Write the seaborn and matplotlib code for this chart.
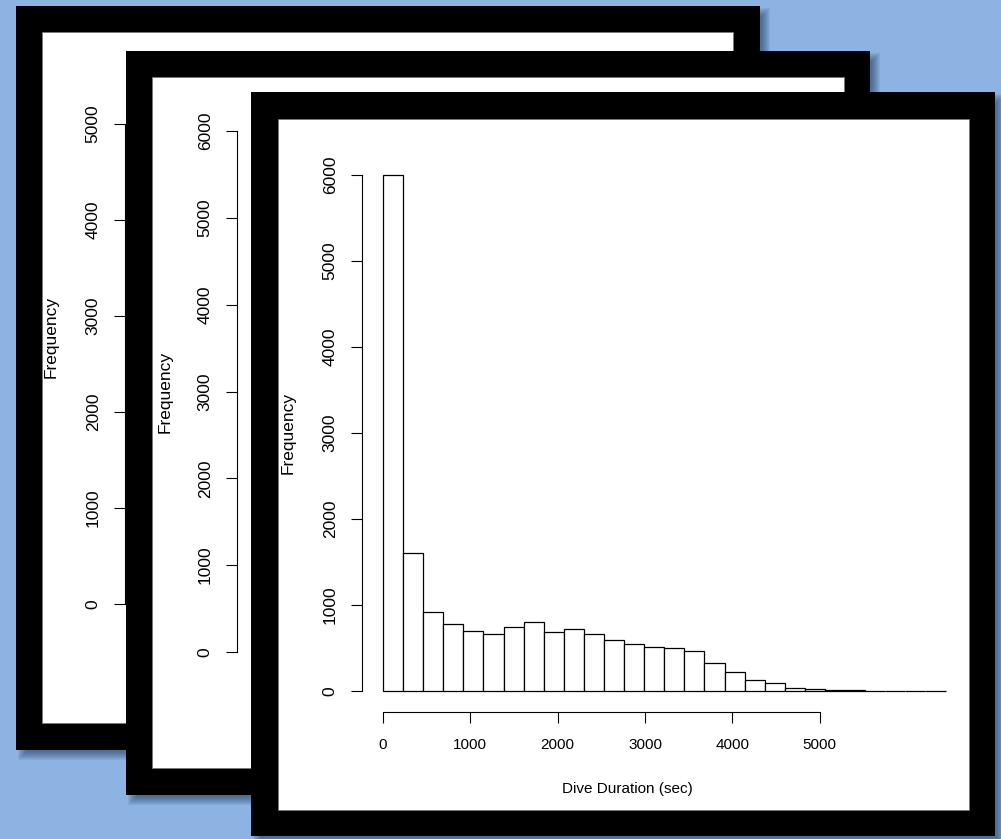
import numpy as np
import matplotlib
matplotlib.use("Agg")
import matplotlib.pyplot as plt
from matplotlib.patches import Rectangle
import seaborn as sns

# ---------------- data ----------------
bin_edges = [0, 230, 460, 690, 920, 1150, 1380, 1610, 1840, 2070, 2300, 2530,
             2760, 2990, 3220, 3450, 3680, 3910, 4140, 4370, 4600, 4830, 5060,
             5290, 5520, 5750, 5980, 6210, 6440]
counts = [6000, 1605, 922, 783, 702, 663, 748, 802, 690, 725, 663, 597, 543,
          516, 504, 469, 330, 225, 128, 89, 39, 18, 14, 10, 0, 0, 0, 0]
x_ticks = [0, 1000, 2000, 3000, 4000, 5000]
x_tick_labels = ["0", "1000", "2000", "3000", "4000", "5000"]
y_ticks_front = [0, 1000, 2000, 3000, 4000, 5000, 6000]
y_tick_labels_front = ["0", "1000", "2000", "3000", "4000", "5000", "6000"]
y_ticks_mid = [0, 1000, 2000, 3000, 4000, 5000, 6000]
y_tick_labels_mid = ["0", "1000", "2000", "3000", "4000", "5000", "6000"]
y_ticks_back = [0, 1000, 2000, 3000, 4000, 5000]
y_tick_labels_back = ["0", "1000", "2000", "3000", "4000", "5000"]
x_label = "Dive Duration (sec)"
y_label = "Frequency"

# ---------------- style ----------------
plt.rcParams["font.family"] = ["Liberation Sans", "DejaVu Sans"]
W, H = 1001, 839
BG = "#8db3e2"
fig = plt.figure(figsize=(W / 100, H / 100), dpi=100, facecolor=BG)


def add_axes_px(left, top, right, bottom, zorder):
    ax = fig.add_axes([left / W, 1 - bottom / H, (right - left) / W, (bottom - top) / H],
                      zorder=zorder)
    ax.set_facecolor("none")
    return ax


def draw_card(zorder, outer, inner):
    ax = fig.add_axes([0, 0, 1, 1], zorder=zorder)
    ax.set_xlim(0, W)
    ax.set_ylim(H, 0)
    ax.axis("off")
    ax.patch.set_alpha(0)
    x0, y0, x1, y1 = outer
    off = 6
    for s in range(-4, 5):
        ax.add_patch(Rectangle((x0 + off + s, y0 + off + s),
                               (x1 - x0) - 2 * s, (y1 - y0) - 2 * s,
                               facecolor="#1d3557", edgecolor="none", alpha=0.08))
    ax.add_patch(Rectangle((x0, y0), x1 - x0, y1 - y0, facecolor="black", edgecolor="none"))
    ix0, iy0, ix1, iy1 = inner
    ax.add_patch(Rectangle((ix0, iy0), ix1 - ix0, iy1 - iy0, facecolor="white",
                           edgecolor="#777777", linewidth=0.6))


def style_y_axis(ax, ticks, labels, bounds):
    for sp in ["top", "right", "bottom"]:
        ax.spines[sp].set_visible(False)
    ax.spines["left"].set_bounds(*bounds)
    ax.spines["left"].set_linewidth(0.8)
    ax.set_yticks(ticks)
    ax.set_yticklabels(labels, rotation=90, va="center", fontsize=12.5)
    ax.tick_params(axis="y", direction="out", length=8, width=0.8, pad=9.5,
                   colors="black")


# ---------------- back card ----------------
draw_card(1, (16, 6, 760, 750), (42, 32, 733, 723))
ax1 = add_axes_px(125, 100, 700, 640, 2)
ax1.set_ylim(-378.5, 5252)
ax1.set_xlim(0, 1)
ax1.set_xticks([])
style_y_axis(ax1, y_ticks_back, y_tick_labels_back, (0, 5000))
ax1.set_ylabel(y_label, fontsize=12.5)
ax1.yaxis.label.set_va("center")
ax1.yaxis.set_label_coords((51 - 125) / 575, (640 - 337) / 540)

# ---------------- middle card ----------------
draw_card(3, (126, 51, 870, 795), (152, 77, 844, 768))
ax2 = add_axes_px(237, 110, 800, 690, 4)
ax2.set_ylim(-437.6, 6242)
ax2.set_xlim(0, 1)
ax2.set_xticks([])
style_y_axis(ax2, y_ticks_mid, y_tick_labels_mid, (0, 6000))
ax2.set_ylabel(y_label, fontsize=12.5)
ax2.yaxis.label.set_va("center")
ax2.yaxis.set_label_coords((165 - 237) / 563, (690 - 392) / 580)

# ---------------- front card ----------------
draw_card(5, (251, 92, 995, 836), (278, 119, 969, 810))
ax3 = add_axes_px(362, 154, 966.5, 712, 6)
edges = np.array(bin_edges, dtype=float)
centers = (edges[:-1] + edges[1:]) / 2
sns.histplot(x=centers, weights=counts, bins=bin_edges, ax=ax3,
             color="white", edgecolor="black", linewidth=0.9, alpha=1.0)
ax3.set_xlim(-240.4, 6680)
ax3.set_ylim(-244, 6244)
style_y_axis(ax3, y_ticks_front, y_tick_labels_front, (0, 6000))
ax3.spines["bottom"].set_visible(True)
ax3.spines["bottom"].set_bounds(0, 5000)
ax3.spines["bottom"].set_linewidth(0.8)
ax3.set_xticks(x_ticks)
ax3.set_xticklabels(x_tick_labels, fontsize=11)
ax3.tick_params(axis="x", direction="out", length=8, width=0.8, pad=10.5,
                colors="black")
ax3.set_xlabel(x_label, fontsize=11)
ax3.xaxis.set_label_coords((627.7 - 362) / 604.5, (712 - 781.7) / 558)
ax3.set_ylabel(y_label, fontsize=12.5)
ax3.yaxis.label.set_va("center")
ax3.yaxis.set_label_coords((288 - 362) / 604.5, (712 - 433) / 558)

fig.savefig("out.png", dpi=100, facecolor=BG)
